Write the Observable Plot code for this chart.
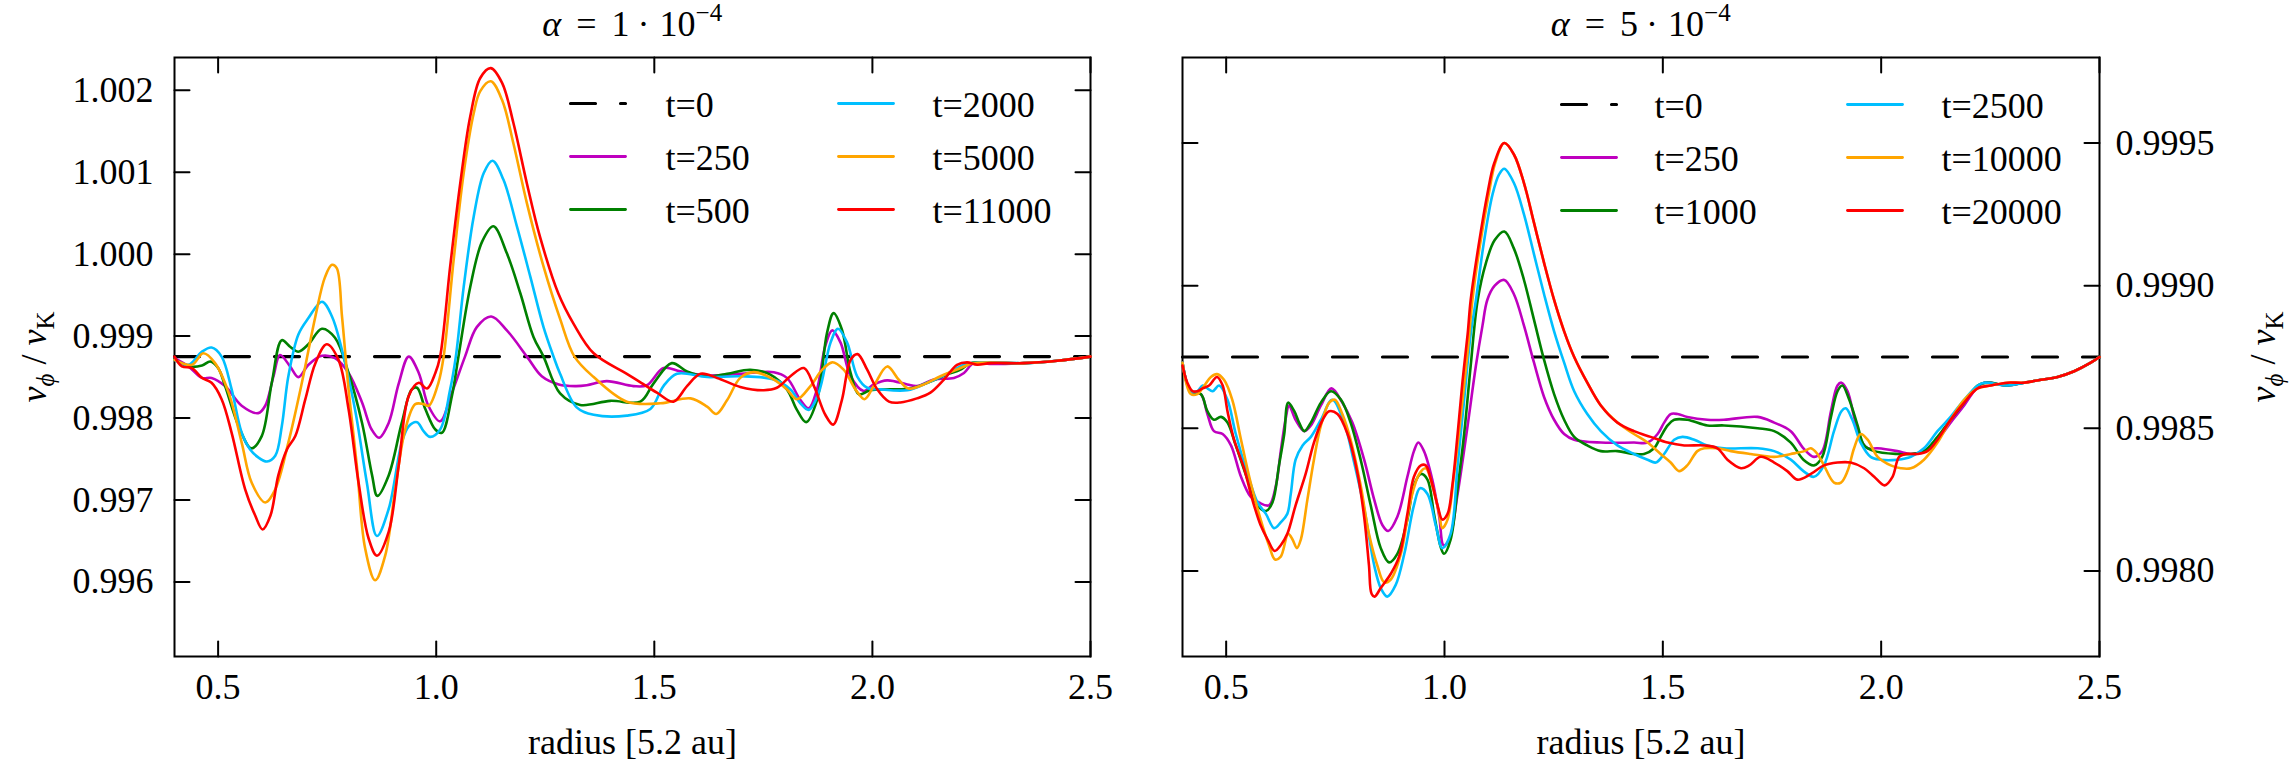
<!DOCTYPE html>
<html><head><meta charset="utf-8">
<script src="https://cdn.jsdelivr.net/npm/d3@7"></script>
<script src="https://cdn.jsdelivr.net/npm/@observablehq/plot@0.6"></script>
<style>
html,body{margin:0;padding:0;background:#fff;}
#wrap{position:relative;width:2292px;height:772px;overflow:hidden;background:#fff;}
#wrap svg{position:absolute;top:0;}
</style></head><body><div id="wrap"></div>
<script>
// ---------------- DATA ----------------
const xTicks = [0.5, 1.0, 1.5, 2.0, 2.5];
const yTicksLeft = [0.996, 0.997, 0.998, 0.999, 1.000, 1.001, 1.002];
const yTicksRight = [0.9980, 0.9985, 0.9990, 0.9995];
const titlesText = ["α = 1·10−4", "α = 5·10−4"];
const xLabelText = "radius [5.2 au]";
const yLabelText = "vϕ / vK";
const labelsLeft = ["t=0", "t=250", "t=500", "t=2000", "t=5000", "t=11000"];
const labelsRight = ["t=0", "t=250", "t=1000", "t=2500", "t=10000", "t=20000"];
const t0Value = 0.99875;

// alpha = 1e-4 (left panel): [radius, v_phi/v_K]
const L_t0 = [[0.4, t0Value], [2.5, t0Value]];
const L_t250 = [[0.400,0.99873],[0.432,0.99863],[0.463,0.99849],[0.485,0.99849],[0.516,0.99839],[0.554,0.99815],[0.592,0.99806],[0.608,0.99815],[0.627,0.99851],[0.642,0.99877],[0.665,0.99863],[0.684,0.99850],[0.707,0.99865],[0.738,0.99876],[0.768,0.99873],[0.799,0.99855],[0.830,0.99819],[0.852,0.99786],[0.869,0.99776],[0.891,0.99794],[0.914,0.99842],[0.937,0.99875],[0.960,0.99855],[0.982,0.99815],[1.009,0.99796],[1.036,0.99831],[1.066,0.99875],[1.093,0.99911],[1.126,0.99924],[1.162,0.99907],[1.208,0.99875],[1.242,0.99851],[1.281,0.99841],[1.319,0.99839],[1.345,0.99840],[1.391,0.99845],[1.452,0.99839],[1.483,0.99840],[1.521,0.99861],[1.560,0.99857],[1.621,0.99852],[1.697,0.99854],[1.774,0.99856],[1.804,0.99849],[1.835,0.99822],[1.854,0.99812],[1.873,0.99835],[1.892,0.99888],[1.908,0.99907],[1.927,0.99892],[1.950,0.99851],[1.980,0.99833],[2.003,0.99841],[2.034,0.99846],[2.080,0.99841],[2.102,0.99839],[2.141,0.99847],[2.187,0.99849],[2.210,0.99855],[2.232,0.99867],[2.270,0.99866],[2.347,0.99867],[2.424,0.99870],[2.500,0.99875]];
const L_t500 = [[0.400,0.99872],[0.432,0.99863],[0.463,0.99864],[0.482,0.99869],[0.500,0.99861],[0.516,0.99839],[0.547,0.99790],[0.576,0.99763],[0.600,0.99778],[0.623,0.99843],[0.646,0.99895],[0.665,0.99887],[0.684,0.99881],[0.707,0.99890],[0.738,0.99909],[0.768,0.99898],[0.799,0.99855],[0.830,0.99794],[0.853,0.99730],[0.865,0.99705],[0.891,0.99730],[0.921,0.99794],[0.944,0.99835],[0.956,0.99837],[0.975,0.99811],[0.998,0.99786],[1.013,0.99782],[1.036,0.99827],[1.051,0.99875],[1.078,0.99960],[1.105,1.00015],[1.131,1.00034],[1.162,1.00001],[1.193,0.99952],[1.223,0.99899],[1.246,0.99875],[1.284,0.99830],[1.330,0.99816],[1.399,0.99821],[1.468,0.99820],[1.498,0.99842],[1.540,0.99867],[1.575,0.99857],[1.621,0.99851],[1.667,0.99854],[1.720,0.99859],[1.766,0.99853],[1.804,0.99835],[1.827,0.99810],[1.848,0.99795],[1.873,0.99822],[1.896,0.99904],[1.911,0.99928],[1.930,0.99908],[1.950,0.99855],[1.969,0.99829],[1.995,0.99834],[2.041,0.99835],[2.087,0.99836],[2.126,0.99843],[2.171,0.99853],[2.202,0.99859],[2.225,0.99867],[2.248,0.99868],[2.347,0.99867],[2.424,0.99870],[2.500,0.99875]];
const L_t2000 = [[0.400,0.99871],[0.432,0.99865],[0.463,0.99881],[0.485,0.99886],[0.508,0.99875],[0.531,0.99835],[0.554,0.99782],[0.573,0.99762],[0.592,0.99752],[0.612,0.99747],[0.631,0.99754],[0.646,0.99790],[0.661,0.99851],[0.684,0.99902],[0.707,0.99922],[0.738,0.99942],[0.761,0.99924],[0.784,0.99883],[0.814,0.99810],[0.841,0.99721],[0.864,0.99656],[0.891,0.99689],[0.921,0.99770],[0.937,0.99790],[0.956,0.99795],[0.971,0.99784],[0.986,0.99777],[1.009,0.99786],[1.032,0.99835],[1.045,0.99875],[1.063,0.99960],[1.086,1.00046],[1.109,1.00099],[1.129,1.00114],[1.154,1.00091],[1.185,1.00034],[1.216,0.99972],[1.246,0.99911],[1.269,0.99875],[1.284,0.99854],[1.322,0.99813],[1.361,0.99804],[1.437,0.99803],[1.491,0.99811],[1.521,0.99839],[1.552,0.99854],[1.621,0.99850],[1.697,0.99851],[1.774,0.99847],[1.812,0.99835],[1.835,0.99818],[1.854,0.99810],[1.877,0.99831],[1.904,0.99892],[1.921,0.99909],[1.942,0.99892],[1.965,0.99851],[1.988,0.99837],[2.018,0.99835],[2.080,0.99834],[2.126,0.99843],[2.171,0.99854],[2.210,0.99865],[2.248,0.99868],[2.347,0.99867],[2.424,0.99870],[2.500,0.99875]];
const L_t5000 = [[0.400,0.99871],[0.440,0.99865],[0.466,0.99879],[0.493,0.99867],[0.524,0.99831],[0.554,0.99770],[0.577,0.99721],[0.608,0.99697],[0.631,0.99713],[0.661,0.99770],[0.692,0.99843],[0.723,0.99924],[0.745,0.99972],[0.761,0.99987],[0.772,0.99983],[0.784,0.99924],[0.799,0.99835],[0.818,0.99742],[0.837,0.99641],[0.860,0.99602],[0.883,0.99632],[0.906,0.99713],[0.929,0.99786],[0.952,0.99817],[0.971,0.99817],[0.983,0.99815],[1.005,0.99843],[1.017,0.99875],[1.040,0.99993],[1.063,1.00099],[1.086,1.00172],[1.101,1.00199],[1.125,1.00211],[1.151,1.00188],[1.177,1.00135],[1.208,1.00062],[1.246,0.99985],[1.284,0.99921],[1.317,0.99875],[1.361,0.99850],[1.437,0.99820],[1.514,0.99818],[1.583,0.99824],[1.621,0.99814],[1.642,0.99805],[1.667,0.99822],[1.697,0.99849],[1.728,0.99856],[1.774,0.99847],[1.804,0.99835],[1.827,0.99823],[1.858,0.99839],[1.885,0.99859],[1.908,0.99868],[1.934,0.99859],[1.961,0.99835],[1.982,0.99823],[2.003,0.99839],[2.034,0.99863],[2.060,0.99847],[2.083,0.99836],[2.118,0.99841],[2.156,0.99851],[2.202,0.99861],[2.232,0.99867],[2.347,0.99867],[2.424,0.99870],[2.500,0.99875]];
const L_t11000 = [[0.400,0.99875],[0.417,0.99863],[0.440,0.99861],[0.463,0.99849],[0.485,0.99843],[0.508,0.99823],[0.531,0.99782],[0.562,0.99713],[0.585,0.99681],[0.602,0.99664],[0.620,0.99681],[0.638,0.99730],[0.658,0.99762],[0.677,0.99778],[0.700,0.99823],[0.723,0.99867],[0.749,0.99890],[0.776,0.99871],[0.799,0.99811],[0.822,0.99721],[0.845,0.99653],[0.864,0.99632],[0.891,0.99661],[0.914,0.99742],[0.937,0.99827],[0.960,0.99843],[0.979,0.99836],[0.998,0.99855],[1.009,0.99875],[1.032,0.99985],[1.055,1.00086],[1.078,1.00168],[1.101,1.00215],[1.125,1.00227],[1.151,1.00209],[1.177,1.00160],[1.208,1.00086],[1.238,1.00021],[1.280,0.99952],[1.315,0.99915],[1.361,0.99879],[1.437,0.99854],[1.470,0.99843],[1.506,0.99831],[1.544,0.99820],[1.575,0.99839],[1.606,0.99854],[1.644,0.99849],[1.697,0.99838],[1.751,0.99834],[1.781,0.99837],[1.812,0.99851],[1.843,0.99861],[1.866,0.99839],[1.892,0.99804],[1.910,0.99792],[1.930,0.99822],[1.950,0.99871],[1.966,0.99878],[1.988,0.99859],[2.011,0.99835],[2.038,0.99820],[2.064,0.99819],[2.102,0.99824],[2.133,0.99831],[2.164,0.99847],[2.194,0.99865],[2.217,0.99868],[2.240,0.99865],[2.271,0.99867],[2.347,0.99867],[2.424,0.99870],[2.500,0.99875]];

// alpha = 5e-4 (right panel)
const R_t0 = [[0.4, t0Value], [2.5, t0Value]];
const R_t250 = [[0.400,0.99873],[0.419,0.99863],[0.442,0.99862],[0.457,0.99855],[0.472,0.99849],[0.492,0.99848],[0.511,0.99844],[0.534,0.99833],[0.556,0.99826],[0.575,0.99824],[0.598,0.99823],[0.614,0.99830],[0.625,0.99842],[0.637,0.99854],[0.644,0.99858],[0.659,0.99853],[0.679,0.99849],[0.694,0.99851],[0.717,0.99858],[0.741,0.99864],[0.766,0.99859],[0.789,0.99852],[0.816,0.99839],[0.839,0.99825],[0.858,0.99816],[0.871,0.99814],[0.892,0.99819],[0.915,0.99833],[0.930,0.99842],[0.940,0.99845],[0.953,0.99842],[0.972,0.99832],[0.988,0.99819],[0.998,0.99809],[1.011,0.99811],[1.030,0.99827],[1.053,0.99851],[1.072,0.99872],[1.087,0.99886],[1.098,0.99895],[1.115,0.99900],[1.137,0.99902],[1.159,0.99897],[1.182,0.99886],[1.205,0.99873],[1.228,0.99861],[1.251,0.99853],[1.274,0.99848],[1.297,0.99846],[1.358,0.99845],[1.434,0.99845],[1.465,0.99845],[1.488,0.99848],[1.503,0.99852],[1.518,0.99855],[1.534,0.99855],[1.556,0.99854],[1.602,0.99853],[1.640,0.99853],[1.717,0.99854],[1.755,0.99852],[1.793,0.99849],[1.822,0.99843],[1.846,0.99840],[1.865,0.99842],[1.885,0.99856],[1.900,0.99865],[1.909,0.99866],[1.923,0.99863],[1.938,0.99854],[1.953,0.99846],[1.969,0.99843],[1.992,0.99843],[2.037,0.99842],[2.068,0.99841],[2.098,0.99842],[2.129,0.99846],[2.159,0.99852],[2.190,0.99858],[2.213,0.99863],[2.236,0.99866],[2.289,0.99865],[2.327,0.99866],[2.366,0.99867],[2.404,0.99868],[2.442,0.99870],[2.480,0.99873],[2.500,0.99875]];
const R_t1000 = [[0.400,0.99873],[0.419,0.99863],[0.442,0.99862],[0.457,0.99856],[0.472,0.99853],[0.488,0.99854],[0.503,0.99852],[0.522,0.99844],[0.549,0.99832],[0.572,0.99823],[0.591,0.99821],[0.606,0.99824],[0.621,0.99837],[0.633,0.99848],[0.642,0.99859],[0.656,0.99856],[0.667,0.99852],[0.679,0.99849],[0.694,0.99852],[0.717,0.99859],[0.740,0.99863],[0.763,0.99860],[0.785,0.99852],[0.808,0.99839],[0.831,0.99823],[0.854,0.99808],[0.873,0.99803],[0.892,0.99806],[0.915,0.99818],[0.930,0.99830],[0.946,0.99834],[0.961,0.99832],[0.976,0.99820],[0.992,0.99808],[0.999,0.99806],[1.014,0.99811],[1.030,0.99829],[1.045,0.99848],[1.060,0.99872],[1.076,0.99895],[1.095,0.99908],[1.115,0.99916],[1.137,0.99919],[1.159,0.99913],[1.182,0.99902],[1.205,0.99888],[1.228,0.99874],[1.251,0.99862],[1.274,0.99853],[1.297,0.99847],[1.327,0.99844],[1.358,0.99842],[1.396,0.99842],[1.434,0.99841],[1.457,0.99841],[1.480,0.99843],[1.495,0.99847],[1.511,0.99851],[1.526,0.99853],[1.556,0.99853],[1.602,0.99851],[1.640,0.99851],[1.717,0.99850],[1.755,0.99849],[1.793,0.99845],[1.822,0.99839],[1.846,0.99837],[1.865,0.99840],[1.885,0.99854],[1.900,0.99863],[1.911,0.99865],[1.927,0.99860],[1.946,0.99851],[1.961,0.99844],[1.984,0.99842],[2.037,0.99841],[2.068,0.99841],[2.098,0.99842],[2.129,0.99847],[2.159,0.99853],[2.190,0.99859],[2.221,0.99865],[2.244,0.99866],[2.289,0.99865],[2.327,0.99866],[2.366,0.99867],[2.404,0.99868],[2.442,0.99870],[2.480,0.99873],[2.500,0.99875]];
const R_t2500 = [[0.400,0.99873],[0.419,0.99863],[0.434,0.99863],[0.446,0.99865],[0.457,0.99864],[0.469,0.99863],[0.484,0.99865],[0.503,0.99860],[0.522,0.99848],[0.549,0.99834],[0.572,0.99824],[0.591,0.99820],[0.610,0.99815],[0.625,0.99817],[0.640,0.99820],[0.648,0.99827],[0.659,0.99839],[0.675,0.99844],[0.694,0.99847],[0.717,0.99853],[0.743,0.99860],[0.770,0.99852],[0.793,0.99838],[0.816,0.99822],[0.839,0.99802],[0.854,0.99794],[0.869,0.99791],[0.888,0.99795],[0.908,0.99806],[0.930,0.99823],[0.944,0.99829],[0.961,0.99827],[0.980,0.99816],[0.995,0.99808],[1.014,0.99813],[1.030,0.99837],[1.045,0.99860],[1.060,0.99883],[1.072,0.99895],[1.090,0.99915],[1.110,0.99932],[1.125,0.99939],[1.137,0.99941],[1.159,0.99936],[1.182,0.99925],[1.205,0.99911],[1.228,0.99897],[1.251,0.99884],[1.274,0.99873],[1.297,0.99863],[1.327,0.99855],[1.358,0.99849],[1.396,0.99844],[1.434,0.99841],[1.465,0.99839],[1.484,0.99838],[1.503,0.99841],[1.526,0.99846],[1.545,0.99847],[1.572,0.99846],[1.602,0.99844],[1.640,0.99843],[1.717,0.99843],[1.755,0.99842],[1.793,0.99839],[1.822,0.99835],[1.846,0.99833],[1.869,0.99837],[1.892,0.99849],[1.909,0.99856],[1.919,0.99857],[1.934,0.99853],[1.953,0.99845],[1.976,0.99840],[1.999,0.99839],[2.037,0.99839],[2.068,0.99840],[2.098,0.99843],[2.129,0.99849],[2.159,0.99854],[2.190,0.99860],[2.221,0.99865],[2.236,0.99866],[2.289,0.99865],[2.327,0.99866],[2.366,0.99867],[2.404,0.99868],[2.442,0.99870],[2.480,0.99873],[2.500,0.99875]];
const R_t10000 = [[0.400,0.99873],[0.419,0.99862],[0.434,0.99862],[0.450,0.99865],[0.465,0.99868],[0.479,0.99869],[0.495,0.99867],[0.514,0.99860],[0.534,0.99846],[0.556,0.99831],[0.579,0.99818],[0.598,0.99809],[0.612,0.99804],[0.625,0.99805],[0.642,0.99813],[0.652,0.99811],[0.662,0.99808],[0.671,0.99811],[0.686,0.99825],[0.701,0.99839],[0.717,0.99851],[0.736,0.99859],[0.749,0.99860],[0.766,0.99855],[0.785,0.99846],[0.808,0.99830],[0.827,0.99813],[0.846,0.99802],[0.862,0.99796],[0.877,0.99797],[0.900,0.99806],[0.923,0.99825],[0.942,0.99834],[0.957,0.99836],[0.972,0.99830],[0.988,0.99820],[0.995,0.99815],[1.007,0.99818],[1.022,0.99834],[1.037,0.99854],[1.053,0.99877],[1.064,0.99895],[1.080,0.99913],[1.100,0.99931],[1.116,0.99943],[1.137,0.99950],[1.159,0.99946],[1.182,0.99936],[1.205,0.99922],[1.228,0.99908],[1.251,0.99895],[1.274,0.99884],[1.297,0.99875],[1.327,0.99866],[1.358,0.99858],[1.396,0.99852],[1.434,0.99848],[1.465,0.99845],[1.495,0.99841],[1.518,0.99838],[1.537,0.99835],[1.556,0.99837],[1.579,0.99842],[1.595,0.99843],[1.625,0.99843],[1.656,0.99842],[1.701,0.99841],[1.755,0.99840],[1.793,0.99841],[1.824,0.99842],[1.839,0.99843],[1.854,0.99841],[1.869,0.99837],[1.892,0.99831],[1.908,0.99831],[1.923,0.99835],[1.938,0.99843],[1.953,0.99848],[1.969,0.99846],[1.992,0.99840],[2.022,0.99837],[2.045,0.99836],[2.068,0.99836],[2.098,0.99839],[2.129,0.99845],[2.159,0.99853],[2.190,0.99860],[2.221,0.99864],[2.251,0.99865],[2.289,0.99866],[2.327,0.99866],[2.366,0.99867],[2.404,0.99868],[2.442,0.99870],[2.480,0.99873],[2.500,0.99875]];
const R_t20000 = [[0.400,0.99872],[0.411,0.99866],[0.423,0.99863],[0.434,0.99863],[0.446,0.99864],[0.461,0.99865],[0.479,0.99868],[0.492,0.99865],[0.503,0.99856],[0.518,0.99846],[0.541,0.99836],[0.560,0.99825],[0.579,0.99816],[0.595,0.99811],[0.611,0.99807],[0.625,0.99809],[0.640,0.99813],[0.659,0.99823],[0.682,0.99834],[0.701,0.99845],[0.721,0.99853],[0.736,0.99856],[0.755,0.99855],[0.778,0.99848],[0.801,0.99834],[0.816,0.99819],[0.827,0.99802],[0.833,0.99792],[0.840,0.99791],[0.854,0.99794],[0.877,0.99799],[0.896,0.99805],[0.915,0.99820],[0.930,0.99833],[0.946,0.99837],[0.957,0.99837],[0.969,0.99832],[0.984,0.99823],[0.995,0.99818],[1.007,0.99820],[1.018,0.99830],[1.030,0.99848],[1.041,0.99866],[1.053,0.99883],[1.060,0.99895],[1.078,0.99914],[1.098,0.99932],[1.114,0.99943],[1.137,0.99950],[1.159,0.99946],[1.182,0.99936],[1.205,0.99922],[1.228,0.99908],[1.251,0.99895],[1.274,0.99884],[1.297,0.99875],[1.327,0.99866],[1.358,0.99858],[1.396,0.99852],[1.434,0.99849],[1.472,0.99847],[1.511,0.99845],[1.549,0.99844],[1.595,0.99844],[1.625,0.99843],[1.648,0.99839],[1.679,0.99836],[1.698,0.99837],[1.724,0.99840],[1.755,0.99838],[1.785,0.99835],[1.808,0.99832],[1.839,0.99834],[1.869,0.99837],[1.900,0.99838],[1.930,0.99838],[1.961,0.99836],[1.984,0.99833],[2.008,0.99830],[2.026,0.99833],[2.041,0.99840],[2.056,0.99841],[2.083,0.99841],[2.106,0.99842],[2.129,0.99846],[2.159,0.99853],[2.190,0.99859],[2.221,0.99864],[2.251,0.99865],[2.289,0.99866],[2.327,0.99866],[2.366,0.99867],[2.404,0.99868],[2.442,0.99870],[2.480,0.99873],[2.500,0.99875]];

// ---------------- STYLE / LAYOUT ----------------
const colors = ["#000000", "#bf00bf", "#008000", "#00bfff", "#ffa500", "#ff0000"];
const FONT = "Liberation Serif";
const FS = 36;
const tickLine = {draw(ctx, l) { ctx.moveTo(0, 0); ctx.lineTo(0, -l); }};

// turn a plain label into math-like rich text, then centre it on its anchor
function rich(svg, key, parts) {
  d3.select(svg).selectAll("text").each(function () {
    if (this.textContent !== key) return;
    const t = d3.select(this);
    t.text(null);
    for (const p of parts) {
      const s = t.append("tspan").text(p.t);
      if (p.italic) s.attr("font-style", "italic");
      if (p.size) s.attr("font-size", p.size);
      if (p.dy) s.attr("dy", p.dy);
      if (p.dx) s.attr("dx", p.dx);
    }
    const bb = this.getBBox();
    const cx = bb.x + bb.width / 2;
    this.setAttribute("x", -cx);
  });
}

function panel(cfg) {
  const tickOpts = {length: 15, anchor: "start", shape: tickLine, stroke: "black", strokeWidth: 2};
  const txt = {fontSize: FS, fontFamily: FONT};
  const marks = [
    Plot.frame({stroke: "black", strokeWidth: 2}),
    Plot.vector(xTicks, {x: d => d, frameAnchor: "bottom", rotate: 0, ...tickOpts}),
    Plot.vector(xTicks, {x: d => d, frameAnchor: "top", rotate: 180, ...tickOpts}),
    Plot.vector(cfg.yTicks, {y: d => d, frameAnchor: "left", rotate: 90, ...tickOpts}),
    Plot.vector(cfg.yTicks, {y: d => d, frameAnchor: "right", rotate: -90, ...tickOpts}),
    Plot.axisX(xTicks, {anchor: "bottom", tickSize: 0, tickPadding: 17, tickFormat: ".1f", label: null, ...txt}),
    Plot.axisY(cfg.yTicks, {anchor: cfg.yAnchor, tickSize: 0, tickPadding: cfg.yPad, tickFormat: cfg.yFormat, label: null, ...txt}),
  ];
  cfg.series.forEach((s, i) => {
    marks.push(Plot.line(s, {x: d => d[0], y: d => d[1], stroke: colors[i],
      strokeWidth: i === 0 ? 3.2 : 2.6, strokeDasharray: i === 0 ? "25,25" : null,
      curve: i === 0 ? "linear" : "catmull-rom"}));
  });
  // legend (two columns, three rows)
  cfg.labels.forEach((lab, i) => {
    const col = Math.floor(i / 3), row = i % 3;
    marks.push(Plot.vector([lab], {frameAnchor: "top-left", dx: cfg.legLine[col], dy: cfg.legRows[row],
      rotate: 90, length: 55, anchor: "start", shape: tickLine, stroke: colors[i],
      strokeWidth: i === 0 ? 3.2 : 2.8, strokeDasharray: i === 0 ? "25,25" : null}));
    marks.push(Plot.text([lab], {frameAnchor: "top-left", dx: cfg.legText[col], dy: cfg.legRows[row] + 2,
      text: d => d, textAnchor: "start", lineAnchor: "middle", ...txt}));
  });
  marks.push(Plot.text([cfg.title], {frameAnchor: "top", dy: -22, text: d => d, lineAnchor: "bottom", ...txt}));
  marks.push(Plot.text([xLabelText], {frameAnchor: "bottom", dy: 86, text: d => d, lineAnchor: "middle", ...txt}));
  marks.push(Plot.text([yLabelText], {frameAnchor: cfg.yLabelAnchor, dx: cfg.yLabelDx, text: d => d, rotate: -90, lineAnchor: "middle", ...txt}));

  const svg = Plot.plot({
    width: cfg.width, height: 772,
    marginLeft: cfg.marginLeft, marginRight: cfg.marginRight, marginTop: 57, marginBottom: 116,
    x: {domain: [0.4, 2.5]},
    y: {domain: cfg.yDomain},
    style: "font-family: Liberation Serif; font-size: 36px; color: black; background: white; overflow: visible;",
    marks
  });
  svg.style.left = cfg.left + "px";
  document.getElementById("wrap").appendChild(svg);
  rich(svg, cfg.title, [
    {t: "α", italic: true},
    {t: "=", dx: 15},
    {t: cfg.titleNum, dx: 15},
    {t: "·", dx: 8},
    {t: "10", dx: 10},
    {t: "−4", size: 25, dy: -15}
  ]);
  rich(svg, yLabelText, [
    {t: "v", italic: true},
    {t: "ϕ", italic: true, size: 25, dy: 8},
    {t: " / ", dy: -8},
    {t: "v", italic: true},
    {t: "K", size: 25, dy: 8}
  ]);
  return svg;
}

panel({
  left: 0, width: 1140, marginLeft: 174, marginRight: 50,
  yDomain: [0.99509, 1.0024], yTicks: yTicksLeft, yFormat: ".3f", yAnchor: "left", yPad: 21,
  series: [L_t0, L_t250, L_t500, L_t2000, L_t5000, L_t11000], labels: labelsLeft,
  legLine: [396, 664], legText: [491, 758], legRows: [46, 99, 152],
  title: titlesText[0], titleNum: "1", yLabelAnchor: "left", yLabelDx: -140
});
panel({
  left: 1140, width: 1152, marginLeft: 42, marginRight: 193,
  yDomain: [0.99770, 0.99980], yTicks: yTicksRight, yFormat: ".4f", yAnchor: "right", yPad: 16,
  series: [R_t0, R_t250, R_t1000, R_t2500, R_t10000, R_t20000], labels: labelsRight,
  legLine: [379, 665], legText: [472, 759], legRows: [47, 100, 153],
  title: titlesText[1], titleNum: "5", yLabelAnchor: "right", yLabelDx: 164
});
</script></body></html>
